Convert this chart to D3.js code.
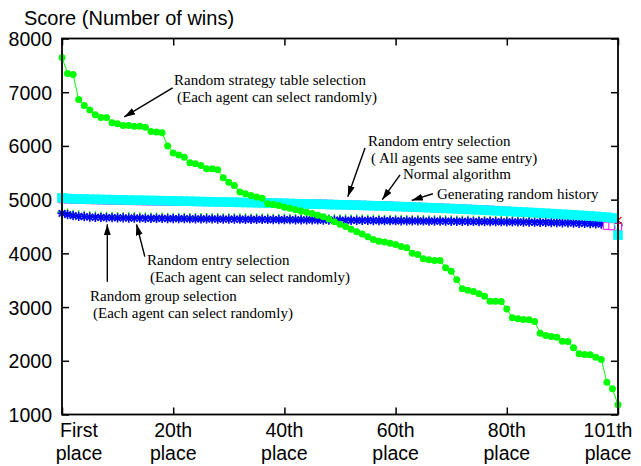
<!DOCTYPE html>
<html>
<head>
<meta charset="utf-8">
<script src="https://cdnjs.cloudflare.com/ajax/libs/d3/7.8.5/d3.min.js"></script>
<style>
body { margin: 0; background: #fff; }
svg text { font-family: "Liberation Sans", Arial, Helvetica, sans-serif; fill: #000; }
.note { font-family: "Liberation Serif", "Times New Roman", serif; font-size: 15px; }
</style>
</head>
<body>
<div id="chart"></div>
<script>
// Scores sorted by place (1st .. 101st)
const strategyTable = [
  7645, 7350, 7330, 6866, 6754, 6667, 6581, 6530, 6530, 6432,
  6413, 6380, 6380, 6368, 6368, 6350, 6270, 6257, 6245, 6000,
  5870, 5830, 5790, 5687, 5668, 5637, 5575, 5575, 5557, 5408,
  5326, 5264, 5140, 5110, 5078, 5047, 5028, 4923, 4910, 4890,
  4860, 4840, 4810, 4790, 4765, 4740, 4710, 4680, 4640, 4590,
  4540, 4500, 4450, 4400, 4360, 4310, 4260, 4225, 4210, 4190,
  4166, 4128, 4104, 4004, 3980, 3899, 3880, 3867, 3867, 3732,
  3669, 3508, 3340, 3315, 3290, 3250, 3200, 3110, 3110, 3105,
  2965, 2800, 2782, 2770, 2763, 2732, 2514, 2471, 2452, 2440,
  2365, 2360, 2242, 2130, 2117, 2112, 2067, 2024, 1601, 1478,
  1180];

const entrySame = [
  5032, 5021, 5016, 5013, 5010, 5008, 5006, 5003, 5001, 4999,
  4997, 4995, 4992, 4990, 4988, 4987, 4985, 4982, 4980, 4978,
  4976, 4974, 4971, 4969, 4967, 4965, 4962, 4960, 4958, 4956,
  4954, 4951, 4949, 4947, 4945, 4943, 4940, 4938, 4936, 4933,
  4931, 4929, 4926, 4923, 4921, 4918, 4916, 4913, 4910, 4907,
  4905, 4902, 4899, 4896, 4893, 4890, 4887, 4883, 4880, 4877,
  4873, 4870, 4866, 4862, 4858, 4854, 4850, 4846, 4842, 4837,
  4833, 4828, 4823, 4819, 4814, 4809, 4804, 4799, 4794, 4789,
  4784, 4779, 4773, 4768, 4763, 4757, 4751, 4746, 4740, 4734,
  4728, 4722, 4716, 4709, 4703, 4696, 4689, 4681, 4672, 4658,
  4340];

const normalAlgo = [
  5010, 5005, 5001, 4998, 4995, 4992, 4990, 4987, 4985, 4982,
  4980, 4978, 4976, 4974, 4972, 4970, 4968, 4966, 4964, 4962,
  4961, 4960, 4959, 4958, 4957, 4956, 4955, 4954, 4953, 4952,
  4951, 4950, 4949, 4948, 4947, 4946, 4945, 4944, 4942, 4940,
  4938, 4936, 4934, 4932, 4930, 4928, 4926, 4924, 4921, 4918,
  4915, 4912, 4909, 4906, 4903, 4900, 4897, 4894, 4891, 4888,
  4884, 4880, 4876, 4872, 4868, 4864, 4860, 4856, 4852, 4848,
  4844, 4840, 4835, 4830, 4826, 4821, 4816, 4811, 4806, 4800,
  4792, 4784, 4777, 4770, 4763, 4756, 4750, 4744, 4738, 4732,
  4726, 4720, 4714, 4708, 4701, 4694, 4687, 4678, 4515, 4505,
  4490];

const randomHistory = [
  5020, 5012, 5008, 5005, 5003, 5001, 4999, 4997, 4995, 4993,
  4991, 4989, 4987, 4985, 4983, 4981, 4979, 4977, 4975, 4973,
  4971, 4969, 4967, 4965, 4963, 4961, 4959, 4957, 4955, 4953,
  4951, 4948, 4946, 4944, 4942, 4940, 4937, 4935, 4933, 4930,
  4928, 4925, 4923, 4920, 4918, 4915, 4913, 4910, 4907, 4905,
  4902, 4899, 4897, 4895, 4892, 4889, 4886, 4884, 4882, 4880,
  4878, 4876, 4873, 4870, 4867, 4864, 4861, 4858, 4855, 4851,
  4847, 4843, 4839, 4835, 4831, 4826, 4821, 4815, 4808, 4800,
  4790, 4782, 4775, 4768, 4762, 4756, 4750, 4744, 4738, 4732,
  4726, 4720, 4713, 4707, 4700, 4692, 4684, 4676, 4665, 4648,
  4613];

const entryEach = [
  4745, 4722, 4703, 4690, 4682, 4676, 4671, 4668, 4665, 4663,
  4661, 4659, 4657, 4656, 4654, 4653, 4651, 4650, 4649, 4648,
  4647, 4646, 4645, 4644, 4643, 4642, 4641, 4640, 4639, 4638,
  4637, 4636, 4635, 4634, 4633, 4632, 4631, 4630, 4629, 4628,
  4627, 4626, 4625, 4624, 4623, 4622, 4621, 4620, 4619, 4618,
  4617, 4616, 4615, 4614, 4613, 4612, 4611, 4610, 4609, 4608,
  4607, 4606, 4605, 4604, 4603, 4602, 4601, 4600, 4599, 4598,
  4597, 4596, 4595, 4594, 4593, 4592, 4591, 4590, 4589, 4588,
  4587, 4585, 4584, 4582, 4581, 4579, 4577, 4575, 4573, 4571,
  4569, 4566, 4563, 4560, 4557, 4553, 4549, 4544, 4538, 4530,
  4518];

const groupEach = [
  4770, 4749, 4727, 4716, 4708, 4700, 4697, 4692, 4690, 4689,
  4686, 4685, 4682, 4680, 4679, 4678, 4677, 4675, 4673, 4672,
  4672, 4671, 4669, 4668, 4668, 4667, 4665, 4664, 4664, 4663,
  4662, 4660, 4660, 4659, 4657, 4657, 4656, 4655, 4653, 4653,
  4652, 4651, 4649, 4648, 4648, 4647, 4645, 4645, 4644, 4642,
  4642, 4641, 4639, 4639, 4638, 4636, 4636, 4635, 4633, 4633,
  4632, 4631, 4630, 4628, 4628, 4627, 4625, 4625, 4624, 4622,
  4622, 4621, 4619, 4619, 4618, 4616, 4616, 4615, 4613, 4613,
  4612, 4610, 4608, 4607, 4606, 4603, 4602, 4600, 4597, 4596,
  4594, 4591, 4587, 4585, 4582, 4577, 4574, 4569, 4562, 4555,
  4543];

const yTicks = [1000, 2000, 3000, 4000, 5000, 6000, 7000, 8000];
const xTicks = [1, 21, 41, 61, 81, 101];
const xTickLabels = [["First", "place"], ["20th", "place"], ["40th", "place"],
                     ["60th", "place"], ["80th", "place"], ["101th", "place"]];

// annotation arrows in data units: [place, score] tail -> tip
const notes = [
  { lines: ["Random strategy table selection", "(Each agent can select randomly)"], x: 174, y: 85, tail: [20.9, 7080], tip: [12.2, 6540] },
  { lines: ["Random entry selection", "( All agents see same entry)"], x: 368, y: 146, tail: [55.5, 5960], tip: [52.4, 5055] },
  { lines: ["Normal algorithm"], x: 403, y: 179, tail: [61.8, 5460], tip: [58.6, 5000] },
  { lines: ["Generating random history"], x: 437, y: 199, tail: [67.7, 5110], tip: [63.9, 4985] },
  { lines: ["Random entry selection", "(Each agent can select randomly)"], x: 147, y: 265, tail: [15.9, 3940], tip: [14.4, 4540] },
  { lines: ["Random group selection", "(Each agent can select randomly)"], x: 90, y: 301, tail: [9.15, 3470], tip: [9.15, 4540] }
];

const width = 641, height = 466;
const plot = { left: 62, right: 618, top: 38.5, bottom: 414.5 };

const svg = d3.select("#chart").append("svg")
  .attr("width", width)
  .attr("height", height);

const x = d3.scaleLinear().domain([1, 101]).range([plot.left, plot.right]);
const y = d3.scaleLinear().domain([1000, 8000]).range([plot.bottom, plot.top]);

// arrow head
svg.append("defs").append("marker")
  .attr("id", "head")
  .attr("markerUnits", "userSpaceOnUse")
  .attr("markerWidth", 12).attr("markerHeight", 8)
  .attr("refX", 11).attr("refY", 3.5)
  .attr("orient", "auto")
  .append("path")
  .attr("d", "M0,0 L11,3.5 L0,7 Z")
  .attr("fill", "#000");

// axes with inward ticks
svg.append("g")
  .attr("transform", `translate(${plot.left},0)`)
  .call(d3.axisLeft(y).tickValues(yTicks).tickFormat(d3.format("d"))
    .tickSizeInner(-7).tickSizeOuter(0).tickPadding(10))
  .call(g => g.select(".domain").remove())
  .call(g => g.selectAll("line").attr("stroke-width", 1.5))
  .call(g => g.selectAll("text").attr("font-size", 19.5).attr("dy", "0.36em")
    .style("font-family", "'Liberation Sans', Arial, sans-serif"));

svg.append("g")
  .attr("transform", `translate(${plot.right},0)`)
  .call(d3.axisRight(y).tickValues(yTicks).tickSizeInner(-7).tickSizeOuter(0).tickFormat(""))
  .call(g => g.select(".domain").remove())
  .call(g => g.selectAll("line").attr("stroke-width", 1.5));

svg.append("g")
  .attr("transform", `translate(0,${plot.bottom})`)
  .call(d3.axisBottom(x).tickValues(xTicks).tickSizeInner(-7).tickSizeOuter(0).tickFormat(""))
  .call(g => g.select(".domain").remove())
  .call(g => g.selectAll("line").attr("stroke-width", 1.5));

svg.append("g")
  .attr("transform", `translate(0,${plot.top})`)
  .call(d3.axisTop(x).tickValues(xTicks).tickSizeInner(-7).tickSizeOuter(0).tickFormat(""))
  .call(g => g.select(".domain").remove())
  .call(g => g.selectAll("line").attr("stroke-width", 1.5));

// two-line x labels
const xShift = [17, 0, 0, 0, 0, -10];
const xl = svg.append("g").selectAll("text")
  .data(xTicks)
  .join("text")
  .attr("text-anchor", "middle")
  .attr("font-size", 19.5)
  .attr("transform", (d, i) => `translate(${x(d) + xShift[i]},0)`);
xl.append("tspan").attr("x", 0).attr("y", 437).text((d, i) => xTickLabels[i][0]);
xl.append("tspan").attr("x", 0).attr("y", 460).text((d, i) => xTickLabels[i][1]);

// title
svg.append("text")
  .attr("x", 24).attr("y", 25)
  .attr("font-size", 20)
  .text("Score (Number of wins)");

// marker shapes
const shapes = {
  square: s => `M${-s},${-s}h${2 * s}v${2 * s}h${-2 * s}Z`,
  times: s => `M${-s},${-s}L${s},${s}M${-s},${s}L${s},${-s}`,
  plus: s => `M${-s},0H${s}M0,${-s}V${s}`,
  star: s => { const d = s * 0.72; return `M${-s},0H${s}M0,${-s}V${s}M${-d},${-d}L${d},${d}M${-d},${d}L${d},${-d}`; }
};

const line = d3.line().x((d, i) => x(i + 1)).y(d => y(d));

function drawSeries(values, color, shape, size, fill, sw) {
  const g = svg.append("g");
  g.append("path")
    .datum(values)
    .attr("d", line)
    .attr("fill", "none")
    .attr("stroke", color)
    .attr("stroke-width", 1);
  g.selectAll("path.pt")
    .data(values)
    .join("path")
    .attr("class", "pt")
    .attr("transform", (d, i) => `translate(${x(i + 1)},${y(d)})`)
    .attr("d", shapes[shape](size))
    .attr("fill", fill)
    .attr("stroke", fill === color ? "none" : color)
    .attr("stroke-width", sw);
}

drawSeries(groupEach, "#00e000", "plus", 4.6, "none", 1.3);
drawSeries(entryEach, "#0000ff", "star", 4.6, "none", 1.6);
drawSeries(normalAlgo, "#ff00ff", "square", 3.6, "#fff", 1);
drawSeries(randomHistory, "#ff0000", "times", 3.5, "none", 1.2);
drawSeries(entrySame, "#00ffff", "square", 4.8, "#00ffff", 0);

// strategy table selection: big green dots
const gStrat = svg.append("g");
gStrat.append("path")
  .datum(strategyTable)
  .attr("d", line)
  .attr("fill", "none")
  .attr("stroke", "#00ff00")
  .attr("stroke-width", 1);
gStrat.selectAll("circle")
  .data(strategyTable)
  .join("circle")
  .attr("cx", (d, i) => x(i + 1))
  .attr("cy", d => y(d))
  .attr("r", 3.5)
  .attr("fill", "#00ff00");

// frame
svg.append("rect")
  .attr("x", plot.left).attr("y", plot.top)
  .attr("width", plot.right - plot.left)
  .attr("height", plot.bottom - plot.top)
  .attr("fill", "none")
  .attr("stroke", "#000")
  .attr("stroke-width", 1.8);

// annotations
const ng = svg.append("g");
notes.forEach(n => {
  const t = ng.append("text").attr("class", "note");
  n.lines.forEach((s, i) => {
    t.append("tspan").attr("x", n.x + (i ? 3 : 0)).attr("y", n.y + i * 16.5).text(s);
  });
  ng.append("line")
    .attr("x1", x(n.tail[0])).attr("y1", y(n.tail[1]))
    .attr("x2", x(n.tip[0])).attr("y2", y(n.tip[1]))
    .attr("stroke", "#000")
    .attr("stroke-width", 1.4)
    .attr("marker-end", "url(#head)");
});
</script>
</body>
</html>
